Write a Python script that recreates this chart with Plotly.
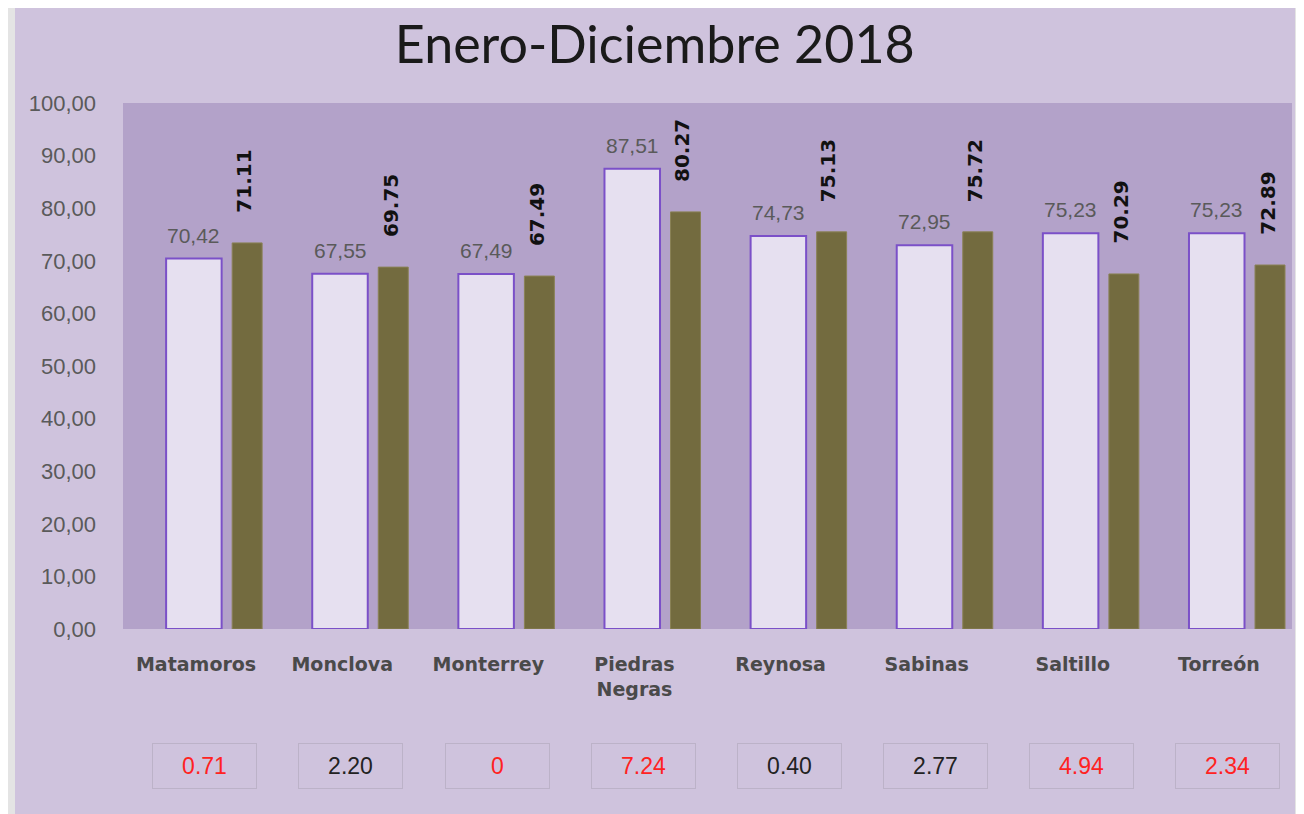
import plotly.graph_objects as go

categories = ["Matamoros", "Monclova", "Monterrey", "Piedras Negras",
              "Reynosa", "Sabinas", "Saltillo", "Torreón"]
tick_labels = ["Matamoros", "Monclova", "Monterrey", "Piedras<br>Negras",
               "Reynosa", "Sabinas", "Saltillo", "Torreón"]
series_a = [70.42, 67.55, 67.49, 87.51, 74.73, 72.95, 75.23, 75.23]
series_b = [73.4, 68.8, 67.1, 79.3, 75.5, 75.5, 67.5, 69.2]
series_b_labels = ["71.11", "69.75", "67.49", "80.27", "75.13", "75.72", "70.29", "72.89"]
diff_labels = ["0.71", "2.20", "0", "7.24", "0.40", "2.77", "4.94", "2.34"]
diff_red = [True, False, True, True, False, False, True, True]
y_ticks = [0, 10, 20, 30, 40, 50, 60, 70, 80, 90, 100]

fig = go.Figure()
fig.add_bar(
    x=categories, y=series_a, width=0.38, offset=-0.205,
    marker=dict(color="#e6e0f0", line=dict(color="#7b50c8", width=2)),
    showlegend=False,
)
fig.add_bar(
    x=categories, y=series_b, width=0.205, offset=0.247,
    marker=dict(color="#736b3f", line=dict(color="#8a8256", width=1)),
    showlegend=False,
)

annotations = []
for i, v in enumerate(series_a):
    annotations.append(dict(
        x=i - 0.015, y=v, xref="x", yref="y",
        text=("%.2f" % v).replace(".", ","),
        showarrow=False, yanchor="bottom", yshift=10,
        font=dict(family="Liberation Sans", size=21, color="#5a5a5a"),
    ))
for i, (v, t) in enumerate(zip(series_b, series_b_labels)):
    annotations.append(dict(
        x=i + 0.33, y=v, xref="x", yref="y", text="<b>%s</b>" % t,
        textangle=-90, showarrow=False, yanchor="bottom", yshift=28,
        font=dict(family="DejaVu Sans", size=20, color="#111111"),
    ))
for i, (t, red) in enumerate(zip(diff_labels, diff_red)):
    annotations.append(dict(
        x=i + 0.06, y=-0.26, xref="x", yref="paper", text=t,
        showarrow=False, width=103, height=44, yanchor="middle",
        bordercolor="#bcb2c8", borderwidth=1, borderpad=0,
        font=dict(family="Liberation Sans", size=23,
                  color="#ff2222" if red else "#222222"),
    ))

# figure sits 8px in from the page corner; geometry below is in figure px
L, R, T, B = 115, 20, 95, 193
W, H = 1304, 814
pw = W - L - R
ph = H - T - B

def px(xp):
    return (xp - L) / pw

def py(yp):
    return (H - B - yp) / ph

fig.update_layout(
    width=W, height=H,
    margin=dict(l=L, r=R, t=T, b=B),
    paper_bgcolor="#e4e4e4",
    plot_bgcolor="#b3a2c9",
    barmode="overlay",
    title=dict(text="Enero-Diciembre 2018", x=0.496, xanchor="center",
               y=0.955, yanchor="middle",
               font=dict(family="Lato", size=52, color="#1a1a1a")),
    annotations=annotations,
    shapes=[
        dict(type="rect", xref="paper", yref="paper", layer="below",
             x0=px(7), x1=px(1287), y0=py(H + 20), y1=py(0),
             fillcolor="#cfc3dd", line=dict(width=0)),
        dict(type="rect", xref="paper", yref="paper", layer="below",
             x0=0, x1=1, y0=0, y1=1,
             fillcolor="#b3a2c9", line=dict(width=0)),
    ],
    xaxis=dict(
        tickmode="array", tickvals=categories, ticktext=tick_labels,
        tickfont=dict(family="DejaVu Sans", size=19, color="#4a4a4a", weight="bold"),
        showgrid=False, zeroline=False, showline=False, ticks="",
        ticklabelstandoff=22, range=[-0.5, 7.5],
    ),
    yaxis=dict(
        range=[0, 100], tickvals=y_ticks,
        ticktext=[("%.2f" % t).replace(".", ",") for t in y_ticks],
        tickfont=dict(family="Liberation Sans", size=22, color="#5a5a5a"),
        showgrid=False, zeroline=False, showline=False, ticks="",
        ticklabelstandoff=26,
    ),
)

fig.write_html("out.html")
